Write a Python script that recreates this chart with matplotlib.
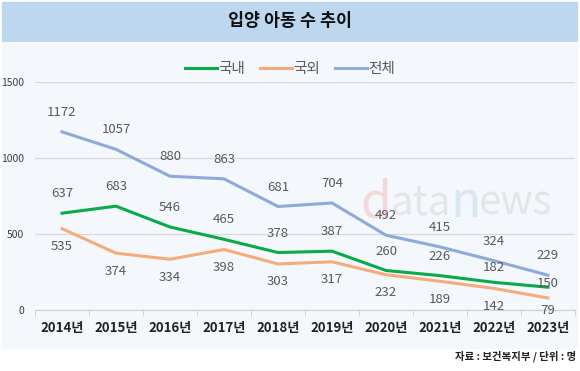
import matplotlib
matplotlib.use("Agg")
import matplotlib.pyplot as plt
from matplotlib.patches import Rectangle

plt.rcParams['font.family'] = ['Noto Sans CJK KR', 'DejaVu Sans']

# data
years = ["2014년", "2015년", "2016년", "2017년", "2018년",
         "2019년", "2020년", "2021년", "2022년", "2023년"]
domestic = [637, 683, 546, 465, 378, 387, 260, 226, 182, 150]
overseas = [535, 374, 334, 398, 303, 317, 232, 189, 142, 79]
total = [1172, 1057, 880, 863, 681, 704, 492, 415, 324, 229]

green = "#0aaa48"
orange = "#f5ab7c"
blue = "#8eaadb"
label_color = "#595959"

# label offsets (points) for the domestic series, squeezed at the end like the original
dom_off = [14, 14, 14, 14, 14, 14, 14, 14, 11, 3]
ovs_off = [-13, -13, -13, -13, -13, -13, -13, -13, -13, -9]

fig = plt.figure(figsize=(5.8, 3.71), dpi=100)
W, H = 580, 371

# title band and chart panel
fig.patches.append(Rectangle((2 / W, 1 - 41 / H), 575 / W, 39 / H,
                             transform=fig.transFigure, color="#bdd7ee", zorder=0))
fig.patches.append(Rectangle((2 / W, 1 - 348 / H), 575 / W, 304 / H,
                             transform=fig.transFigure, color="#f4f7fc", zorder=0))
fig.text(0.5, 1 - 21 / H, "입양 아동 수 추이", ha="center", va="center",
         fontsize=12.5, fontweight="bold", color="#111111")
fig.text(576 / W, 1 - 356 / H, "자료 : 보건복지부 / 단위 : 명", ha="right", va="center",
         fontsize=7.5, fontweight="bold", color="#222222")

ax = fig.add_axes([35 / W, 1 - 310 / H, 540 / W, 228 / H])
ax.set_facecolor("none")
ax.set_zorder(2)

# watermark
wm_y = 1 - 203 / H
fig.text(360 / W, wm_y, "d", fontsize=36, color="#f3d8da", va="center", ha="left", zorder=1)
fig.text(391 / W, wm_y, "ata", fontsize=29, color="#e3e5e9", va="center", ha="left", zorder=1)
fig.text(450 / W, wm_y, "n", fontsize=36, color="#d8e7f4", va="center", ha="left", zorder=1)
fig.text(479 / W, wm_y, "ews", fontsize=29, color="#e3e5e9", va="center", ha="left", zorder=1)

x = list(range(len(years)))
ax.plot(x, domestic, color=green, lw=2.2, label="국내", zorder=3)
ax.plot(x, overseas, color=orange, lw=2.2, label="국외", zorder=3)
ax.plot(x, total, color=blue, lw=2.2, label="전체", zorder=3)

for i in x:
    ax.annotate(str(total[i]), (i, total[i]), xytext=(0, 14), textcoords="offset points",
                ha="center", va="center", fontsize=9.5, color=label_color, zorder=4)
    ax.annotate(str(domestic[i]), (i, domestic[i]), xytext=(0, dom_off[i]), textcoords="offset points",
                ha="center", va="center", fontsize=9.5, color=label_color, zorder=4)
    ax.annotate(str(overseas[i]), (i, overseas[i]), xytext=(0, ovs_off[i]), textcoords="offset points",
                ha="center", va="center", fontsize=9.5, color=label_color, zorder=4)

ax.set_xlim(-0.5, len(years) - 0.5)
ax.set_ylim(0, 1500)
ax.set_yticks([0, 500, 1000, 1500])
ax.set_xticks(x)
ax.set_xticklabels(years, fontsize=9.5, fontweight="bold", color="#222222")
ax.set_xticks([i - 0.5 for i in range(len(years) + 1)], minor=True)
ax.tick_params(axis="x", which="major", length=0, pad=8)
ax.tick_params(axis="x", which="minor", length=4, color="#d0d0d0")
ax.tick_params(axis="y", length=0, labelsize=7.5, labelcolor="#404040", pad=8)
ax.grid(axis="y", color="#d9d9d9", lw=0.9)
ax.set_axisbelow(True)
for s in ["top", "right", "left"]:
    ax.spines[s].set_visible(False)
ax.spines["bottom"].set_color("#d0d0d0")

fig.legend(loc="center", bbox_to_anchor=(0.5, 1 - 69 / H), ncol=3, frameon=False,
           fontsize=10.5, handlelength=2.2, handletextpad=0.1, columnspacing=1.0,
           labelcolor="#595959")

fig.savefig("out.png", dpi=100)
